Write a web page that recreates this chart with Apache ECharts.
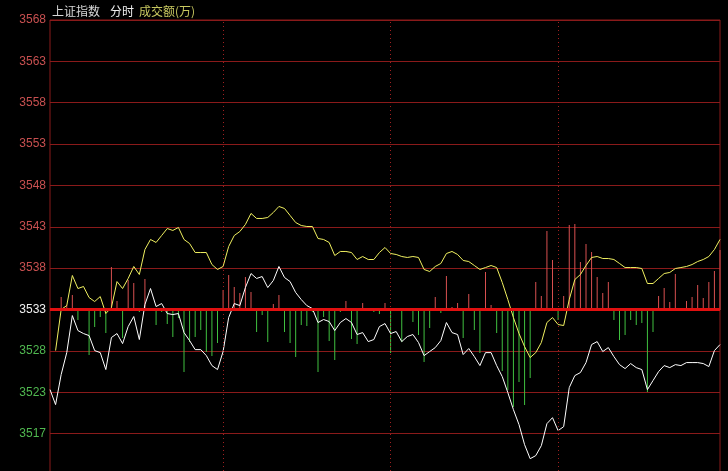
<!DOCTYPE html>
<html><head><meta charset="utf-8">
<script src="https://cdn.jsdelivr.net/npm/echarts@6/dist/echarts.min.js"></script>
<style>html,body{margin:0;padding:0;background:#000;}#c{width:728px;height:471px;}</style>
</head><body><div id="c"></div>
<script>
// Y-axis tick labels (from bottom to top)
var tickLabels = ['3517','3523','3528','3533','3538','3543','3548','3553','3558','3563','3568'];
var baseValue = 3533.2;      // the 3533 baseline
var tickStep = 5.1;
var axisMin = 3512.8;
var axisMax = 3568.9;

// white line
var priceLine = [3523.33,3521.48,3525.18,3527.89,3532.46,3530.61,3530.24,3529.99,3528.14,3527.89,
3525.80,3529.75,3530.24,3529.00,3531.10,3532.34,3529.50,3533.82,3535.79,3533.57,
3533.94,3532.71,3532.58,3532.71,3530.36,3529.37,3528.26,3528.26,3527.52,3526.29,
3525.80,3528.02,3532.21,3533.94,3533.69,3535.91,3537.64,3537.03,3537.27,3535.91,
3536.78,3538.51,3537.15,3536.65,3535.30,3534.43,3533.69,3533.32,3531.60,3531.97,
3531.72,3530.61,3531.60,3532.09,3531.60,3530.12,3530.36,3529.25,3529.50,3531.10,
3531.47,3530.24,3530.49,3529.25,3529.87,3530.12,3529.13,3527.52,3528.02,3528.51,
3529.37,3531.60,3530.36,3530.12,3527.65,3528.39,3527.40,3526.29,3527.89,3527.89,
3526.29,3524.93,3522.96,3520.86,3519.01,3516.54,3514.81,3515.19,3516.42,3519.13,
3519.87,3518.27,3518.76,3523.58,3525.06,3525.43,3526.66,3528.88,3529.25,3528.02,
3528.51,3527.40,3526.41,3525.92,3526.54,3526.04,3525.80,3523.33,3524.44,3525.55,
3526.29,3526.04,3526.41,3526.29,3526.66,3526.66,3526.66,3526.54,3526.17,3528.14,
3528.88];

// yellow line
var leadLine = ['-',3528.14,3533.20,3533.69,3537.40,3535.79,3536.04,3534.68,3534.19,3534.80,
3532.71,3533.45,3536.65,3535.79,3537.03,3538.51,3537.52,3540.60,3541.84,3541.47,
3542.33,3543.19,3542.95,3543.32,3541.84,3541.34,3540.23,3540.23,3540.23,3538.75,
3538.14,3538.51,3540.97,3542.33,3542.82,3543.69,3545.05,3544.43,3544.43,3544.55,
3545.17,3545.91,3545.66,3544.80,3543.93,3543.56,3543.44,3543.44,3541.96,3541.84,
3541.47,3539.86,3540.36,3540.36,3540.23,3539.37,3539.74,3539.37,3539.37,3540.23,
3540.85,3540.11,3539.99,3539.74,3539.62,3539.74,3539.62,3538.14,3537.89,3538.51,
3538.88,3540.11,3540.36,3539.99,3539.25,3539.12,3538.63,3538.14,3538.38,3538.63,
3538.38,3536.53,3534.43,3532.21,3530.24,3528.63,3527.28,3527.89,3529.13,3531.60,
3532.21,3531.35,3531.23,3534.43,3536.90,3537.52,3538.63,3539.62,3539.74,3539.49,
3539.49,3539.37,3538.88,3538.38,3538.38,3538.38,3538.26,3536.41,3536.41,3537.03,
3537.64,3537.77,3538.26,3538.38,3538.51,3538.75,3539.12,3539.37,3539.74,3540.60,
3541.84];

// red / green bars (signed)
var barValues = [0,2,13,5,15,-10,0,-45,-17,-7,
-23,43,9,-28,30,27,-2,31,0,-15,
-2,-14,-27,-8,-62,-32,-27,-20,-42,-46,
-33,20,35,23,17,33,18,-22,-5,-32,
6,15,-22,-33,-47,-15,-16,-2,-62,-7,
-31,-50,-2,9,-29,-34,7,0,-2,-4,
7,-43,0,-32,0,-12,-25,-52,-18,13,
-3,34,3,7,-28,16,-20,-43,38,5,
-23,-61,-80,-97,-72,-95,-68,28,14,79,
50,-10,14,85,86,48,66,58,33,17,
28,-10,-30,-25,-10,-15,-13,-82,-22,14,
22,8,36,0,9,13,25,12,28,39,
60];

var categories = priceLine.map(function(_, i){ return String(i); });
var dividerIdx = [31, 61, 91];

var chart = echarts.init(document.getElementById('c'), null, {renderer:'canvas'});
chart.setOption({
  backgroundColor: '#000',
  animation: false,
  title: {
    left: 52, top: 2, padding: 0,
    text: '{a|上证指数}  {b|分时} {c|成交额(万)}',
    textStyle: {
      fontWeight: 'normal',
      rich: {
        a: {color:'#d8d8d8', fontSize:12, fontWeight:'normal', fontFamily:'Noto Sans CJK SC'},
        b: {color:'#f0f0f0', fontSize:12, fontWeight:'normal', fontFamily:'Noto Sans CJK SC'},
        c: {color:'#c8c860', fontSize:12, fontWeight:'normal', fontFamily:'Noto Sans CJK SC'}
      }
    }
  },
  grid: {left:50, width:670, top:20, height:455, outerBoundsMode:'none', containLabel:false,
         show:true, borderColor:'#8a1a1a', borderWidth:1, backgroundColor:'transparent'},
  xAxis: {
    type:'category', data: categories, boundaryGap:false,
    axisLine:{show:false}, axisTick:{show:false}, axisLabel:{show:false}, splitLine:{show:false}
  },
  yAxis: [{
    type:'value', min: axisMin, max: axisMax, interval: tickStep,
    axisLine:{show:false}, axisTick:{show:false},
    splitLine:{show:true, lineStyle:{color:'#8a1a1a', width:1}},
    axisLabel:{
      margin:4, fontSize:12, fontFamily:'Liberation Sans, Arial, sans-serif',
      formatter: function(v){
        var k = Math.round((v - axisMin)/tickStep) - 1;
        return (k >= 0 && k < tickLabels.length) ? tickLabels[k] : '';
      },
      color: function(v){
        var d = v - baseValue;
        if (Math.abs(d) < 0.01) return '#f0f0f0';
        return d > 0 ? '#c85050' : '#50b850';
      }
    }
  },{
    type:'value', min:-165, max:290, show:false, splitLine:{show:false}
  }],
  series: [
    {
      type:'bar', yAxisIndex:1, data: barValues, barWidth:1, barGap:'-100%',
      itemStyle:{ color: function(p){ return p.value >= 0 ? '#d85050' : '#40c040'; } },
      markLine: {
        silent:true, symbol:'none', label:{show:false},
        lineStyle:{color:'#a02020', type:[1,3], width:1},
        data: dividerIdx.map(function(i){ return {xAxis: i}; })
      }
    },
    {
      type:'line', data: leadLine, showSymbol:false, symbol:'none',
      lineStyle:{color:'#f0f060', width:1}, z:3
    },
    {
      type:'line', data: priceLine, showSymbol:false, symbol:'none',
      lineStyle:{color:'#ffffff', width:1}, z:4,
      markLine: {
        silent:true, symbol:'none', label:{show:false},
        lineStyle:{color:'#e01010', type:'solid', width:3},
        data: [{yAxis: baseValue}]
      }
    }
  ]
});
</script>
</body></html>
